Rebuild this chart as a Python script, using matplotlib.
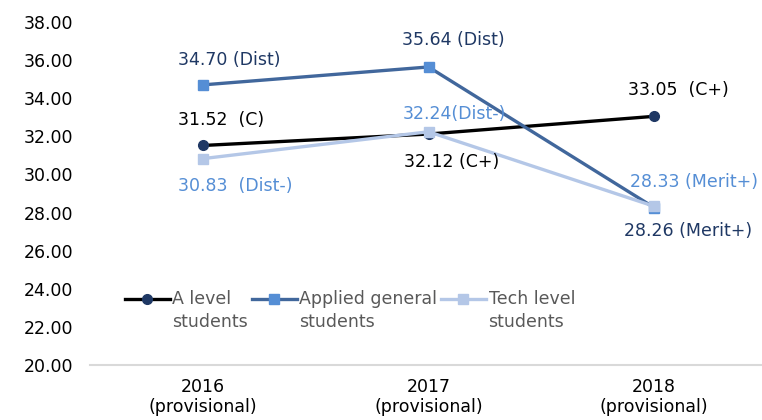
import numpy as np
import matplotlib
matplotlib.use("Agg")
import matplotlib.pyplot as plt
from matplotlib.legend_handler import HandlerLine2D

plt.rcParams['font.family'] = ['DejaVu Sans']

categories = ["2016\n(provisional)", "2017\n(provisional)", "2018\n(provisional)"]
a_level = [31.52, 32.12, 33.05]
applied = [34.70, 35.64, 28.26]
tech = [30.83, 32.24, 28.33]
a_labels = ["31.52  (C)", "32.12 (C+)", "33.05  (C+)"]
applied_labels = ["34.70 (Dist)", "35.64 (Dist)", "28.26 (Merit+)"]
tech_labels = ["30.83  (Dist-)", "32.24(Dist-)", "28.33 (Merit+)"]
series_names = ["A level\nstudents", "Applied general\nstudents", "Tech level\nstudents"]
yticks = [20, 22, 24, 26, 28, 30, 32, 34, 36, 38]

fig = plt.figure(figsize=(7.62, 4.2), dpi=100)
ax = fig.add_axes([90/762, 55/420, 677/762, 343/420])

x = np.arange(len(categories))
fs = 12.5

l1, = ax.plot(x, a_level, color='black', lw=2.4, marker='o', ms=7,
              mfc='#1F3864', mec='#1F3864', label=series_names[0], zorder=3)
l2, = ax.plot(x, applied, color='#41679C', lw=2.4, marker='s', ms=7,
              mfc='#558ED5', mec='#558ED5', label=series_names[1], zorder=3)
l3, = ax.plot(x, tech, color='#B4C7E7', lw=2.4, marker='s', ms=7,
              mfc='#B4C7E7', mec='#B4C7E7', label=series_names[2], zorder=3)

a_off = [(-25, 25), (-24, -28), (-26, 26)]
app_off = [(-25, 25), (-26, 27), (-30, -23)]
tech_off = [(-25, -27), (-26, 18), (-24, 24)]

for vals, labs, offs, col in [(a_level, a_labels, a_off, 'black'),
                              (applied, applied_labels, app_off, '#1F3864'),
                              (tech, tech_labels, tech_off, '#558ED5')]:
    for i, (v, t, o) in enumerate(zip(vals, labs, offs)):
        ax.annotate(t, xy=(x[i], v), xytext=o, textcoords='offset pixels',
                    ha='left', va='center', fontsize=fs, color=col, zorder=4)

ax.set_xlim(-0.5, 2.5)
ax.set_ylim(20, 38)
ax.set_yticks(yticks)
ax.set_yticklabels([f"{t:.2f}" for t in yticks], fontsize=fs)
ax.set_xticks(x)
ax.set_xticklabels(categories, fontsize=fs, linespacing=1.2)
ax.tick_params(axis='both', length=0, colors='black')
ax.tick_params(axis='y', pad=12)
ax.tick_params(axis='x', pad=9)
for s in ['top', 'right', 'left']:
    ax.spines[s].set_visible(False)
ax.spines['bottom'].set_color('#D9D9D9')
ax.spines['bottom'].set_linewidth(1.5)


class UpHandler(HandlerLine2D):
    def create_artists(self, legend, orig_handle, xdescent, ydescent, width,
                       height, fontsize, trans):
        arts = super().create_artists(legend, orig_handle, xdescent, ydescent,
                                      width, height, fontsize, trans)
        for a in arts:
            a.set_ydata(np.asarray(a.get_ydata(), dtype=float) + fontsize * 0.72)
        return arts


leg = ax.legend(handles=[l1, l2, l3], ncol=3, frameon=False, fontsize=fs,
                loc='center left', bbox_to_anchor=(0.028, 0.16),
                handlelength=2.6, handletextpad=0.15, columnspacing=0.2,
                handler_map={matplotlib.lines.Line2D: UpHandler()})
for t in leg.get_texts():
    t.set_color('#595959')
    t.set_linespacing(1.35)

fig.savefig("out.png", dpi=100)
